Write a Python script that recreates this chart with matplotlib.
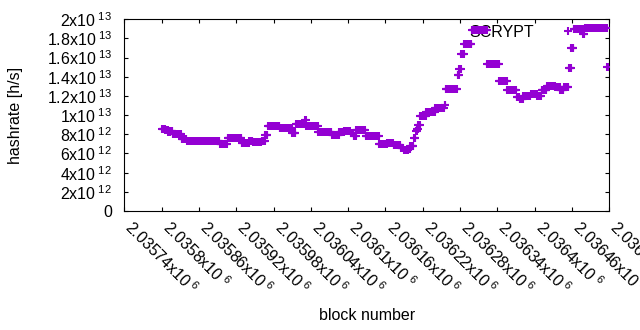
import numpy as np
import matplotlib
matplotlib.use("Agg")
import matplotlib.pyplot as plt
from matplotlib.ticker import FixedLocator, FuncFormatter
from matplotlib.transforms import ScaledTranslation

plt.rcParams['font.family'] = ['Liberation Sans', 'DejaVu Sans']
plt.rcParams['mathtext.fontset'] = 'custom'
plt.rcParams['mathtext.rm'] = 'Liberation Sans'
plt.rcParams['mathtext.it'] = 'Liberation Sans:italic'
plt.rcParams['mathtext.bf'] = 'Liberation Sans:bold'

# ---- data: runs of blocks with constant hashrate (units of 1e12 h/s) ----
seg_start = [2035801, 2035806, 2035811, 2035814, 2035818, 2035832, 2035841, 2035894,
             2035906, 2035929, 2035941, 2035947, 2035961, 2035967, 2035971, 2035990,
             2036010, 2036016, 2036031, 2036033, 2036052, 2036074, 2036086, 2036094,
             2036104, 2036109, 2036113, 2036128, 2036150, 2036163, 2036173, 2036185,
             2036190, 2036197, 2036200, 2036206, 2036209, 2036211, 2036213, 2036216,
             2036226, 2036240, 2036255, 2036257, 2036276, 2036279, 2036282, 2036287,
             2036299, 2036324, 2036343, 2036356, 2036371, 2036376, 2036382, 2036394,
             2036404, 2036411, 2036420, 2036433, 2036441, 2036447, 2036455, 2036459,
             2036463, 2036478, 2036481, 2036517]
seg_value = [8.6, 8.4, 8.2, 8.35, 8.0, 7.46, 7.35, 7.0,
             7.58, 7.06, 7.3, 7.16, 7.3, 7.9, 8.9, 8.66,
             8.1, 9.05, 9.45, 8.9, 8.2, 7.9, 8.2, 8.3,
             8.15, 7.8, 8.5, 7.82, 7.0, 7.06, 6.85, 6.6,
             6.35, 6.5, 6.8, 7.6, 8.3, 8.6, 9.0, 9.9,
             10.35, 10.75, 11.1, 12.7, 14.2, 14.8, 16.4, 17.4,
             18.9, 15.3, 13.6, 12.6, 11.9, 11.7, 12.0, 12.2,
             12.05, 12.6, 13.05, 12.9, 12.6, 12.9, 14.9, 17.0,
             19.0, 18.5, 19.05, 15.0]
last_block = 2036518
series_name = "SCRYPT"

x_ticks = list(range(2035740, 2036521, 60))
y_ticks = [v * 1e12 for v in range(0, 21, 2)]

# expand runs into per-block points
ends = seg_start[1:] + [last_block + 1]
blocks = np.concatenate([np.arange(s, e) for s, e in zip(seg_start, ends)])
rates = np.concatenate([np.full(e - s, v * 1e12) for s, e, v in zip(seg_start, ends, seg_value)])

fig = plt.figure(figsize=(6.4, 3.3), dpi=100)
ax = fig.add_axes([124.3 / 640, 1 - 211 / 330, 485 / 640, 191.7 / 330])

color = '#9400d3'
ax.plot(blocks, rates, linestyle='none', marker='+', markersize=5.5, markeredgewidth=1.5,
        color=color, label=series_name, zorder=3)

ax.set_xlim(x_ticks[0], x_ticks[-1])
ax.set_ylim(0, 2e13)


def xfmt(v, pos):
    return '%gx10$^{\\ 6}$' % (v / 1e6)


def yfmt(v, pos):
    if v == 0:
        return '0'
    e = int(np.floor(np.log10(v) + 1e-9))
    m = v / 10 ** e
    return '%gx10$^{\\ %d}$' % (m, e)


ax.xaxis.set_major_locator(FixedLocator(x_ticks))
ax.yaxis.set_major_locator(FixedLocator(y_ticks))
ax.xaxis.set_major_formatter(FuncFormatter(xfmt))
ax.yaxis.set_major_formatter(FuncFormatter(yfmt))

fs = 11.5
ax.tick_params(direction='in', top=True, right=True, length=3, width=0.8,
               labelsize=fs, color='black')
ax.tick_params(axis='y', pad=9)
ax.tick_params(axis='x', pad=9.6)
shift = ScaledTranslation(4 / 100, 0, fig.dpi_scale_trans)
for lab in ax.get_xticklabels():
    lab.set_rotation(-45)
    lab.set_ha('left')
    lab.set_va('center')
    lab.set_rotation_mode('anchor')
    lab.set_transform(lab.get_transform() + shift)
for sp in ax.spines.values():
    sp.set_linewidth(0.8)

fig.text(16 / 640, 1 - 115.5 / 330, 'hashrate [h/s]', rotation=90, ha='center', va='center', fontsize=fs)
fig.text(366.8 / 640, 1 - 316 / 330, 'block number', ha='center', va='center', fontsize=fs)

leg = ax.legend(loc='center right', bbox_to_anchor=(0.9468, 0.9337), markerfirst=False,
                frameon=False, fontsize=fs, handlelength=2.0, handletextpad=1.1,
                borderpad=0, borderaxespad=0, numpoints=1)
leg.set_zorder(1)

fig.savefig('out.png', dpi=100)
